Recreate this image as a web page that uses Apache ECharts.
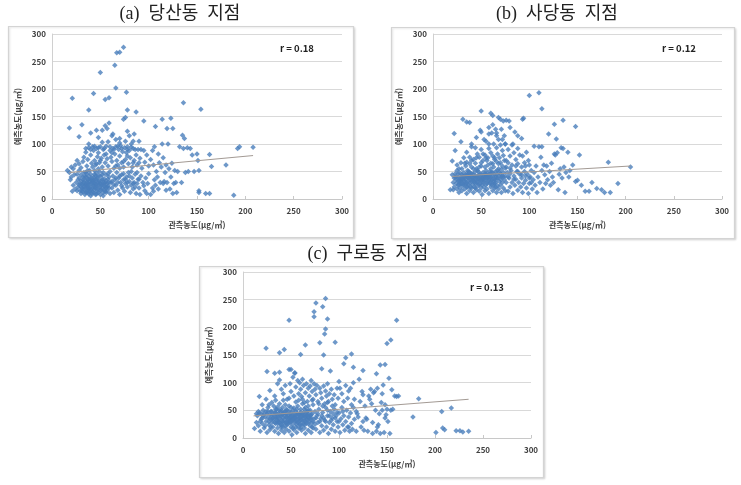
<!DOCTYPE html>
<html><head><meta charset="utf-8">
<script src="https://cdn.jsdelivr.net/npm/echarts@6/dist/echarts.min.js"></script>
<style>html,body{margin:0;padding:0;background:#fff}#c{width:741px;height:485px}</style>
</head><body><div id="c"></div>
<script>
const panelTitles = ['(a)  당산동  지점', '(b)  사당동  지점', '(c)  구로동  지점'];
const rLabels = ['r = 0.18', 'r = 0.12', 'r = 0.13'];
const xName = '관측농도(μg/㎥)';
const yName = '예측농도(μg/㎥)';
const axisTicks = [0, 50, 100, 150, 200, 250, 300];

// (a) 당산동: [관측, 예측]
const pointsA = [
[25,30],[27,22],[28,38],[29,15],[30,44],[31,27],[32,35],[33,18],[33,48],[34,25],[35,12],[35,40],[36,31],[37,20],[37,52],[38,9],[38,36],[39,27],[40,45],[40,16],[41,33],[42,22],[42,58],[43,40],[43,11],[44,29],[45,35],[45,19],[46,47],[46,25],[47,14],[47,38],[48,30],[48,55],[49,21],[50,42],[50,8],[51,33],[51,17],[52,26],[53,48],[53,12],[54,37],[55,22],[55,30],[56,44],[57,15],[57,28],[58,36],[59,20],[60,50],[60,10],[30,10],[32,13],[34,8],[36,14],[38,19],[40,6],[42,13],[44,17],[46,9],[48,12],[36,24],[39,32],[41,28],[43,34],[45,26],[47,30],[49,25],[52,20],[54,28],[56,33],[58,24],[26,45],[28,52],[30,33],[32,28],[34,41],[36,46],[38,42],[31,20],[33,30],[35,25],[37,36],[39,14],[41,38],[43,24],[45,42],[50,28],[52,36],[54,16],[56,12],[59,40],[27,35],[29,28],[24,18],[22,25],[20,40],[18,48],[16,52],[19,35],[21,14],[23,44],[22,55],
[31,15],[33,22],[35,18],[37,28],[39,20],[41,18],[43,30],[45,22],[47,19],[49,33],[51,26],[53,30],[55,14],[57,22],[59,30],[34,34],[36,28],[38,24],[40,36],[42,30],[44,45],[46,36],[48,42],[50,16],[52,44],[54,24],[56,20],[58,46],[32,40],[30,22],[28,26],[26,15],[35,48],[39,52],[44,52],[49,50],[41,10],[45,8],[53,6],[37,12],[62,32],[64,26],[66,38],[68,30],[70,42],[72,24],[74,46],[76,36],[78,30],[80,42],[82,50],[84,28],[86,22],[88,48],[90,36],[35,92],[40,90],[48,93],[54,92],[60,95],[64,90],[68,96],[72,92],[78,90],[82,94],[86,90],[46,64],[50,70],[56,82],[62,84],[66,60],[70,56],[74,68],[78,78],[84,66],[90,66],
[20,58],[24,62],[26,70],[28,64],[30,57],[32,68],[33,76],[35,85],[36,60],[37,72],[38,93],[40,80],[41,65],[42,95],[43,88],[44,70],[45,62],[46,92],[47,77],[48,84],[49,66],[50,95],[51,74],[52,58],[53,90],[54,80],[55,66],[56,96],[57,73],[58,60],[60,88],[61,76],[62,68],[63,92],[64,56],[65,82],[66,95],[67,70],[68,62],[69,90],[70,78],[71,97],[72,66],[73,86],[74,58],[75,93],[76,72],[77,84],[78,95],[79,64],[80,88],[81,75],[82,100],[83,58],[84,92],[85,70],[87,80],[88,62],[89,90],[91,74],[92,90],[93,56],[95,88],[96,67],[98,80],[100,60],[38,100],[44,96],[52,103],[58,104],[66,108],[70,102],[76,105],[84,105],
[61,30],[62,20],[63,42],[64,12],[65,35],[66,25],[67,48],[68,16],[69,38],[70,8],[71,30],[72,44],[73,20],[74,35],[75,14],[76,28],[77,40],[78,22],[79,48],[80,32],[81,12],[82,25],[83,38],[84,18],[85,30],[86,45],[87,10],[88,28],[89,36],[90,20],[91,8],[92,42],[94,30],[95,24],[96,15],[97,38],[98,10],[99,28],[100,46],[102,8],[104,20],[106,35],
[102,72],[104,88],[105,62],[106,95],[108,50],[109,40],[110,82],[111,66],[112,30],[113,58],[114,100],[115,75],[116,32],[117,48],[118,62],[119,30],[120,100],[121,55],[122,18],[123,40],[124,65],[125,10],[126,28],[127,52],[128,30],[129,12],[130,50],[132,95],[134,30],[136,92],[138,48],[140,93],[141,50],[143,92],[145,80],[147,50],[150,82],[151,70],[152,52],[152,15],[152,12],[159,10],[163,10],[165,59],[180,62],[163,81],[192,92],[194,95],[208,94],[188,7],[110,18],[115,28],[118,16],[105,14],[107,25],
[74,276],[67,266],[70,267],[65,243],[50,230],[66,202],[43,192],[77,194],[21,183],[55,181],[59,184],[136,175],[154,163],[38,162],[78,162],[87,158],[76,148],[74,145],[95,142],[114,145],[123,147],[18,129],[31,135],[107,132],[119,128],[125,128],[135,116],[137,110],[28,113],[57,128],[55,133],[59,138],[46,125],[52,125],[40,120],[63,118],[78,123],[70,110],[85,118],[90,105],[80,115],[48,112],[62,115]
];
const trendA = [[18,48],[208,79]];

// (b) 사당동
const pointsB = [
[20,44],[21,30],[22,38],[22,22],[23,46],[24,28],[24,35],[25,18],[25,52],[26,40],[26,25],[27,33],[27,12],[28,47],[28,20],[29,37],[29,28],[30,55],[30,15],[31,42],[31,24],[32,33],[32,48],[33,18],[33,38],[34,27],[34,60],[35,44],[35,10],[36,32],[36,22],[37,50],[37,38],[38,15],[38,29],[39,45],[39,35],[40,20],[40,58],[41,26],[41,40],[42,33],[42,12],[43,48],[43,22],[44,37],[44,28],[45,55],[45,17],[46,42],[46,31],[47,24],[47,50],[48,36],[48,14],[49,45],[49,28],[50,20],[50,60],[51,38],[51,8],[52,30],[52,48],[53,22],[53,42],[54,15],[54,35],[55,52],[55,26],[56,40],[56,18],[57,32],[57,62],[58,45],[58,10],[59,28],[59,38],[60,55],[60,22],[61,34],[61,48],[62,15],[62,42],[63,26],[63,58],[64,36],[64,20],[65,50],[65,30],[66,12],[66,44],[67,24],[67,38],[68,55],[68,18],[69,32],[70,46],[70,25],[71,12],[71,40],[72,30],[72,60],[73,20],[73,48],[74,35],[75,15],[75,42],
[24,40],[26,46],[28,38],[30,44],[32,40],[34,36],[36,44],[38,38],[40,46],[42,38],[44,42],[46,40],[48,44],[50,38],[52,36],[54,40],[56,46],[58,40],[60,46],[62,48],[64,28],[66,36],[68,42],[70,36],[72,42],[29,33],[33,30],[37,26],[41,34],[45,30],[49,34],[53,32],[57,38],[61,26],[65,40],[69,48],[73,40],[27,26],[31,36],[35,22],[39,22],[43,30],[47,36],[51,26],[55,44],[59,50],[63,32],[67,52],[71,54],[75,56],[78,40],[80,46],[84,36],[88,50],[92,44],[96,42],[100,38],[102,30],[76,58],[80,56],[86,60],[62,64],[64,75],[68,64],[55,75],[45,75],[40,70],[32,75],[52,82],[58,100],[68,108],[66,120],[74,115],
[23,40],[26,33],[28,30],[30,38],[32,26],[34,44],[36,40],[38,48],[40,32],[42,44],[44,20],[46,52],[48,26],[50,34],[52,40],[54,46],[56,28],[58,34],[60,30],[62,36],[64,44],[30,28],[35,30],[40,42],[45,36],[50,44],[55,38],[60,40],[65,22],[36,52],[42,55],[48,58],[54,58],[27,55],[33,65],[25,62],[21,17],[18,17],[20,69],[29,66],[35,67],[38,64],[44,65],[50,66],[56,70],[60,65],[66,68],[70,66],[74,70],
[23,88],[35,85],[38,76],[40,95],[42,72],[44,93],[46,82],[48,76],[50,90],[52,70],[54,80],[55,105],[57,75],[58,92],[60,84],[62,78],[63,100],[64,72],[66,93],[67,82],[69,75],[70,98],[72,88],[73,79],[75,100],[76,70],[78,90],[80,78],[82,98],[84,84],[86,72],[88,92],[90,80],[93,78],[95,66],[97,85],[99,70],[78,66],[82,62],[88,64],[92,58],[96,60],[100,62],
[76,30],[77,48],[78,14],[79,38],[80,22],[81,52],[82,30],[83,10],[84,42],[85,25],[86,36],[87,50],[88,16],[89,30],[90,45],[91,22],[92,38],[93,12],[94,28],[95,50],[96,34],[97,20],[98,45],[99,10],[100,28],[101,40],[102,52],[103,18],[104,35],[105,48],
[106,25],[107,60],[108,12],[109,40],[110,95],[111,30],[112,76],[113,52],[114,18],[115,62],[116,44],[117,28],[118,60],[119,35],[120,118],[121,50],[122,25],[123,65],[124,40],[125,30],[126,82],[127,80],[128,109],[129,84],[130,17],[131,45],[132,55],[133,93],[134,38],[135,92],[136,58],[137,12],[138,48],[140,85],[141,40],[142,52],[145,62],[148,32],[150,34],[152,80],[154,25],[158,14],[162,14],[165,30],[170,19],[175,17],[178,12],[184,12],[192,28],[182,67],[205,58],[113,95],[105,96],[126,136],[135,143],[148,132],[110,193],[100,188],[113,164],
[50,160],[60,156],[62,152],[68,148],[70,145],[73,142],[76,143],[79,142],[31,145],[35,140],[38,139],[94,147],[93,145],[58,130],[62,135],[65,127],[71,127],[80,130],[22,119],[29,104],[49,125],[50,122],[58,118],[61,120],[88,115],[72,108],[75,100],[83,100],[45,112],[66,115],[53,108],[40,100],[85,122],[92,110]
];
const trendB = [[20,41],[205,60]];

// (c) 구로동
const pointsC = [
[12,17],[14,28],[15,40],[16,22],[17,45],[18,12],[19,34],[20,26],[21,50],[22,18],[23,38],[24,30],[25,44],[25,10],[26,55],[27,24],[28,35],[28,15],[29,48],[30,28],[30,40],[31,20],[32,58],[32,33],[33,12],[33,45],[34,26],[35,38],[35,52],[36,18],[36,30],[37,44],[37,8],[38,35],[38,62],[39,24],[39,48],[40,14],[40,40],[41,30],[41,55],[42,20],[42,36],[43,46],[43,10],[44,28],[44,60],[45,38],[45,16],[46,50],[46,24],[47,33],[47,42],[48,12],[48,58],[49,28],[49,38],[50,20],[50,46],[51,32],[51,6],[52,42],[52,25],[53,54],[53,15],[54,36],[54,30],[55,48],[55,20],[56,40],[56,10],[57,28],[57,58],[58,35],[58,18],[59,44],[59,25],[60,52],[60,32],[61,14],[61,40],[62,24],[62,62],[63,36],[63,46],[64,18],[64,30],[65,55],[65,8],[66,40],[66,26],[67,48],[67,34],[68,14],[68,58],[69,30],[69,42],[70,22],[70,50],[71,36],[71,10],[72,28],[72,44],[73,18],[73,60],[74,35],[75,25],[75,48],
[31,36],[33,28],[35,44],[37,30],[39,40],[41,44],[43,34],[45,44],[47,26],[49,44],[51,40],[53,36],[55,30],[57,44],[59,36],[61,34],[63,40],[65,38],[67,42],[69,36],[71,42],[73,30],[34,38],[38,42],[42,28],[46,38],[50,34],[54,40],[58,30],[62,44],[66,46],[70,40],[36,26],[40,20],[44,22],[48,30],[52,18],[56,24],[60,18],[64,24],[68,26],[72,20],[30,48],[34,52],[38,50],[44,48],[48,48],[52,50],[56,52],[60,46],[64,52],[68,50],[27,30],[29,20],[23,22],[19,44],[21,40],[26,48],[76,36],[78,44],[80,30],[82,40],[84,36],[86,30],[88,50],[90,40],[92,32],[94,44],[96,36],[98,46],[100,30],[104,48],[79,62],[83,58],[88,64],[93,58],
[30,34],[32,42],[34,46],[36,36],[38,28],[40,32],[42,44],[44,40],[46,30],[48,36],[50,38],[52,34],[54,44],[56,32],[58,42],[60,38],[62,30],[64,42],[66,34],[68,38],[35,32],[40,24],[45,28],[50,30],[55,36],[60,24],[65,30],[70,34],[28,42],[26,36],[24,48],[22,44],[20,36],[18,30],[16,48],[14,44],[40,50],[45,52],[50,55],[36,56],[30,64],[34,68],[42,68],[48,72],[55,65],[62,70],[67,66],[72,68],[17,75],[24,70],[20,60],[27,60],
[28,86],[33,76],[36,98],[38,105],[40,88],[42,80],[44,95],[46,70],[48,124],[49,98],[50,84],[52,110],[53,76],[54,118],[55,92],[57,104],[58,80],[59,100],[60,88],[61,75],[62,106],[63,95],[65,82],[66,98],[68,90],[69,76],[70,94],[71,104],[72,84],[73,70],[74,98],[75,88],[76,78],[77,95],[78,66],[80,90],[81,82],[82,72],[84,94],[85,62],[86,85],[87,76],[88,98],[89,66],[90,80],[92,88],[93,70],[95,78],[96,60],[98,90],[99,72],[100,102],[58,68],[64,64],
[76,16],[77,40],[78,28],[79,52],[80,10],[81,35],[82,22],[83,46],[84,14],[85,32],[86,55],[87,20],[88,40],[89,8],[90,28],[91,48],[92,16],[93,36],[94,24],[95,52],[96,12],[97,40],[98,30],[99,20],[100,45],[101,10],[102,35],[103,55],[104,24],[105,40],[106,14],[107,30],[108,50],[109,20],[110,38],[111,12],[112,45],[113,26],[114,16],[115,55],[116,34],
[101,90],[103,80],[105,66],[107,95],[109,72],[110,85],[112,90],[113,60],[115,100],[116,70],[118,48],[119,44],[120,38],[121,106],[122,66],[123,20],[124,84],[125,78],[126,14],[127,58],[128,36],[129,34],[130,12],[131,76],[132,70],[133,88],[134,62],[135,8],[136,82],[137,84],[138,50],[139,12],[140,90],[141,24],[142,44],[143,8],[144,64],[145,80],[146,96],[147,10],[148,36],[149,42],[150,52],[151,30],[152,108],[153,8],[154,50],[155,87],[156,52],[158,76],[160,75],[162,76],[145,50],[148,60],[110,20],[118,12],[125,30],[135,28],[140,20],
[86,252],[76,244],[83,237],[74,228],[74,219],[88,215],[48,213],[160,213],[86,197],[85,188],[154,177],[150,171],[96,173],[80,172],[65,168],[24,162],[43,160],[38,154],[60,151],[84,150],[113,152],[107,145],[105,134],[115,128],[125,122],[143,132],[148,133],[25,120],[33,117],[38,119],[50,124],[54,117],[82,125],[91,121],[139,116],
[177,38],[183,71],[201,10],[207,48],[208,18],[210,15],[217,54],[222,13],[226,13],[229,11],[235,12]
];
const trendC = [[11,40],[235,70]];

const panels = [
  {pts: pointsA, trend: trendA, grid: {left: 52, top: 34, width: 290, height: 165}, box: [8, 26, 345, 211], title: [180, 14], r: [280, 48]},
  {pts: pointsB, trend: trendB, grid: {left: 433, top: 34, width: 289, height: 165}, box: [391, 27, 343, 211], title: [557, 14], r: [662, 48]},
  {pts: pointsC, trend: trendC, grid: {left: 243, top: 272, width: 288, height: 166}, box: [199, 266, 344, 211], title: [368, 254], r: [470, 287]}
];

const chart = echarts.init(document.getElementById('c'), null, {renderer: 'canvas'});
const grids = [], xAxes = [], yAxes = [], series = [], graphic = [];
const lblStyle = {fontSize: 8, fontWeight: 'bold', color: '#404040', fontFamily: 'Noto Sans CJK KR, sans-serif'};
panels.forEach((p, i) => {
  graphic.push({type: 'rect', z: -10, shape: {x: p.box[0] + 0.5, y: p.box[1] + 0.5, width: p.box[2], height: p.box[3]},
    style: {fill: '#fff', stroke: '#d4d4d4', lineWidth: 1.2, shadowBlur: 2, shadowColor: 'rgba(0,0,0,0.12)', shadowOffsetX: 1, shadowOffsetY: 1}});
  graphic.push({type: 'text', x: p.title[0], y: p.title[1], z: 10,
    style: {text: panelTitles[i], fontSize: 18, fontFamily: '"Liberation Serif", "Noto Sans CJK KR", serif', fill: '#222', align: 'center', verticalAlign: 'middle'}});
  graphic.push({type: 'text', x: p.r[0], y: p.r[1], z: 10,
    style: {text: rLabels[i], fontSize: 9.5, fontWeight: 'bold', fontFamily: 'Noto Sans CJK KR, sans-serif', fill: '#222', align: 'left', verticalAlign: 'middle'}});
  grids.push(Object.assign({containLabel: false}, p.grid));
  xAxes.push({gridIndex: i, type: 'value', min: axisTicks[0], max: axisTicks[axisTicks.length - 1], interval: 50,
    name: xName, nameLocation: 'middle', nameGap: 22, nameTextStyle: lblStyle,
    axisLine: {show: true, lineStyle: {color: '#c8c8c8'}}, axisTick: {show: true, length: 3, inside: true, lineStyle: {color: '#c8c8c8'}},
    axisLabel: Object.assign({margin: 8}, lblStyle), splitLine: {show: false}});
  yAxes.push({gridIndex: i, type: 'value', min: axisTicks[0], max: axisTicks[axisTicks.length - 1], interval: 50,
    name: yName, nameLocation: 'middle', nameGap: 30, nameRotate: 90, nameTextStyle: lblStyle,
    axisLine: {show: true, lineStyle: {color: '#d0d0d0'}}, axisTick: {show: false},
    axisLabel: Object.assign({margin: 6}, lblStyle), splitLine: {show: true, lineStyle: {color: '#d9d9d9', width: 1}}});
  series.push({type: 'scatter', xAxisIndex: i, yAxisIndex: i, data: p.pts, symbol: 'diamond', symbolSize: 5.5,
    itemStyle: {color: '#4a7ebb'}, silent: true, animation: false, z: 3});
  series.push({type: 'line', xAxisIndex: i, yAxisIndex: i, data: p.trend, showSymbol: false, symbol: 'none',
    lineStyle: {color: '#a39a94', width: 1}, silent: true, animation: false, z: 4});
});
chart.setOption({animation: false, backgroundColor: '#fff', grid: grids, xAxis: xAxes, yAxis: yAxes, series: series, graphic: graphic});
</script></body></html>
